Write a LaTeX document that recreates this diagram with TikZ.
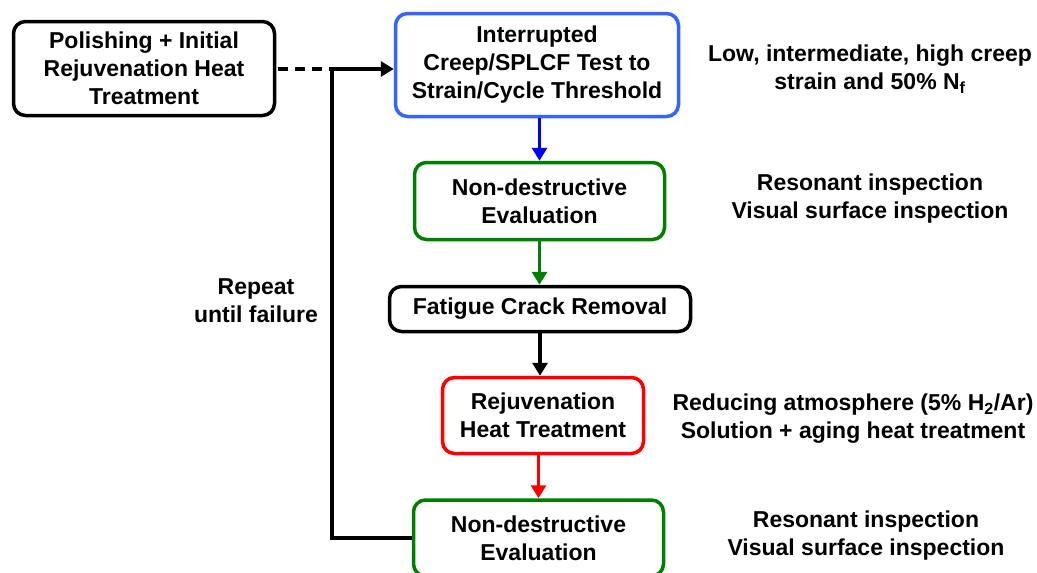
\documentclass[tikz,border=0pt]{standalone}
\usepackage{fontspec}
\setmainfont{Liberation Sans}
\usetikzlibrary{arrows.meta}
\definecolor{bblue}{RGB}{51,102,255}
\definecolor{agreen}{RGB}{0,128,0}
\definecolor{ared}{RGB}{255,0,0}
\definecolor{ablue}{RGB}{0,0,255}
\begin{document}
\begin{tikzpicture}[x=1pt,y=-1pt,
  box/.style={draw, rounded corners=12pt, line width=3.5pt, inner sep=0pt, align=center,
    font=\bfseries\fontsize{23}{28}\selectfont},
  lbl/.style={inner sep=0pt, align=center, font=\bfseries\fontsize{23}{28}\selectfont},
  conn/.style={line width=3.5pt, -{Triangle[length=13pt,width=15pt]}},
  plain/.style={line width=3.5pt}
]
\useasboundingbox (0,0) rectangle (1037,573);
\clip (0,0) rectangle (1037,573);
\fill[white] (0,0) rectangle (1037,573);

\node[box, minimum width=261pt, minimum height=94pt] (A) at (144,68.5)
  {Polishing + Initial\\Rejuvenation Heat\\Treatment};
\node[box, draw=bblue, minimum width=283pt, minimum height=103pt] (B) at (537,65)
  {Interrupted\\Creep/SPLCF Test to\\Strain/Cycle Threshold};
\node[box, draw=agreen, minimum width=250pt, minimum height=77pt] (C) at (539.5,201)
  {Non-destructive\\Evaluation};
\node[box, minimum width=301pt, minimum height=45pt] (D) at (540,309)
  {Fatigue Crack Removal};
\node[box, draw=ared, minimum width=201pt, minimum height=76pt] (E) at (543,415.5)
  {Rejuvenation\\Heat Treatment};
\node[box, draw=agreen, minimum width=250pt, minimum height=76pt] (F) at (538.5,538)
  {Non-destructive\\Evaluation};

\node[lbl] (L1) at (870,69) {Low, intermediate, high creep\\strain and 50\% N\textsubscript{f}};
\node[lbl] (L2) at (870,199) {Resonant inspection\\Visual surface inspection};
\node[lbl] (L3) at (853,419) {Reducing atmosphere (5\% H\textsubscript{2}/Ar)\\Solution + aging heat treatment};
\node[lbl] (L4) at (866,536) {Resonant inspection\\Visual surface inspection};
\node[lbl] (R) at (256,301) {Repeat\\until failure};

\coordinate (j) at (332,69);
\coordinate (b) at (332,538);

\draw[plain, dash pattern=on 10pt off 7pt, dash phase=-2pt] (A.east |- j) -- (j);
\draw[plain] (F.west) -- (b) -- (j);
\draw[conn] (j) -- (j -| B.west);
\draw[conn, ablue] (B.south -| C.north) -- (C.north);
\draw[conn, agreen] (C.south) -- (C.south |- D.north);
\draw[conn] (D.south) -- (D.south |- E.north);
\draw[conn, ared] (E.south -| F.north) -- (F.north);
\end{tikzpicture}
\end{document}
